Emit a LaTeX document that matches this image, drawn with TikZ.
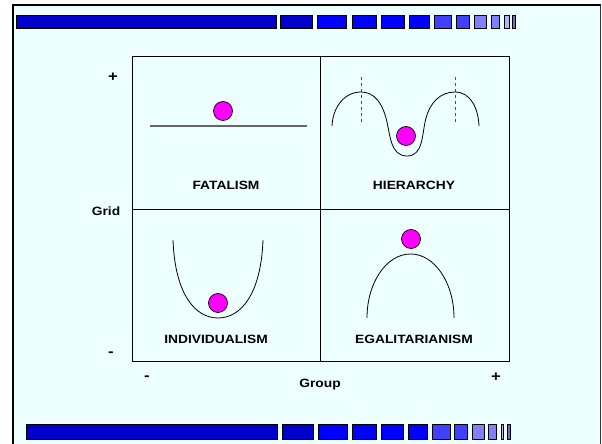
\documentclass[tikz,border=0pt]{standalone}
\usepackage{fontspec}
\setmainfont{Liberation Sans}
\newfontfamily\labfont[FakeStretch=1.15]{Liberation Sans}
\definecolor{bg}{RGB}{238,255,255}
\definecolor{ballc}{RGB}{255,0,255}
\definecolor{bA}{RGB}{0,0,204}
\definecolor{bB}{RGB}{0,0,255}
\definecolor{bC}{RGB}{64,64,255}
\definecolor{bD}{RGB}{128,128,255}
\definecolor{bE}{RGB}{180,180,255}
\definecolor{bF}{RGB}{110,110,200}
\begin{document}
\begin{tikzpicture}[x=1pt,y=1pt,
  lbl/.style={font=\labfont\bfseries\fontsize{12}{14}\selectfont, inner sep=0pt},
  sgn/.style={font=\labfont\bfseries\fontsize{14.5}{16}\selectfont, inner sep=0pt},
  ball/.style={circle, draw=black, fill=ballc, line width=0.7pt, minimum size=19pt, inner sep=0pt},
  crv/.style={draw=black, line width=0.8pt},
  seg/.style={draw=black, line width=0.9pt},
  quad/.style={draw=black, line width=1pt}]
\useasboundingbox (0,0) rectangle (602,444);
\fill[white] (0,0) rectangle (602,444);
\fill[bg] (13,0) rectangle (600.5,439);
\draw[line width=2.5pt] (13,0) -- (13,439.5);
\draw[line width=2pt] (12,439) -- (601,439);
\draw[line width=1.2pt, black!80] (600.5,439) -- (600.5,0);
% top bar
\foreach \a/\b/\c in {16/276/bA,280/312/bA,317/346/bB,352/376/bB,381/404/bB,409/429/bB,434/451/bC,456/469/bC,474/486/bD,491/499/bD,504/509/bE,512/515/bF}
  \filldraw[seg, fill=\c] (\a,416) rectangle (\b,429);
% bottom bar
\foreach \a/\b/\c in {26/277/bA,282/313/bA,318/347/bB,352/376/bB,381/403/bB,408/427/bB,432/450/bC,454/467/bC,472/484/bD,488/496/bD,501/503/bE,507/510/bF}
  \filldraw[seg, fill=\c] (\a,5) rectangle (\b,20);
% quadrant box
\draw[quad] (132,82) rectangle (509,387);
\draw[quad] (320,82) -- (320,387);
\draw[quad] (132,234) -- (509,234);
% axis labels
\node[sgn] (gp) at (113,367) {+};
\node[lbl] (grid) at (106,233) {Grid};
\node[sgn] (gm) at (111,90) {-};
\node[sgn] (hm) at (147,66) {-};
\node[lbl] (group) at (320,59) {Group};
\node[sgn] (hp) at (496,67) {+};
% quadrant labels
\node[lbl] (fat) at (226,259) {FATALISM};
\node[lbl] (hie) at (414,259) {HIERARCHY};
\node[lbl] (ind) at (216,105) {INDIVIDUALISM};
\node[lbl] (ega) at (414,105) {EGALITARIANISM};
% fatalism
\draw[line width=1.2pt, black!60] (150,318) -- (307,318);
\node[ball] (b1) at (223,333) {};
% hierarchy
\draw[dashed, black!70, line width=0.8pt] (361,367) -- (361,319);
\draw[dashed, black!70, line width=0.8pt] (455,367) -- (455,319);
\draw[crv] (332,318) to[out=88,in=180] (361,352) to[out=0,in=105] (386,326)
  to[out=-75,in=180] (407,288) to[out=0,in=-105] (426,326)
  to[out=75,in=180] (455,352) to[out=0,in=92] (479,318);
\node[ball] (b2) at (406,308) {};
% individualism
\draw[crv] (173,204) .. controls (175,150) and (195,126) .. (218,126)
  .. controls (241,126) and (261,150) .. (263,204);
\node[ball] (b3) at (218,141) {};
% egalitarianism
\draw[crv] (367,126) arc[start angle=180, end angle=0, x radius=43.5, y radius=64];
\node[ball] (b4) at (411,205) {};
\end{tikzpicture}
\end{document}
